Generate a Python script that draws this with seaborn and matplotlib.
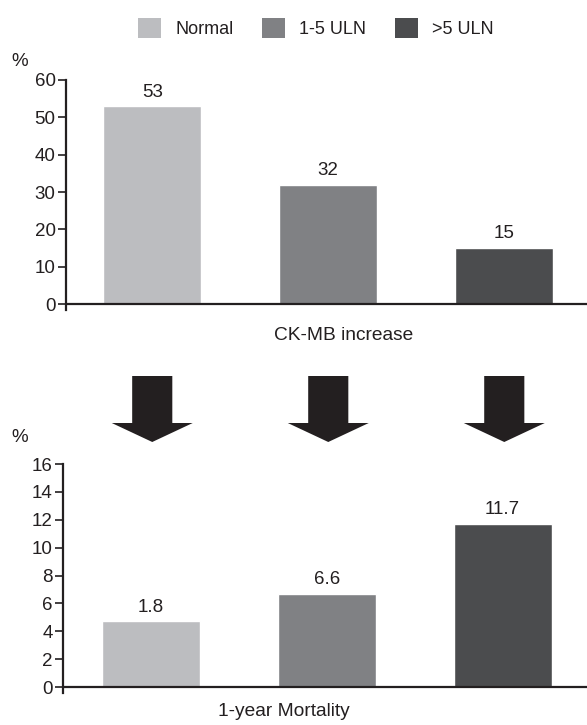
import matplotlib
matplotlib.use("Agg")
import matplotlib.pyplot as plt
import matplotlib.transforms as mtransforms
from matplotlib.patches import Patch, Polygon
import seaborn as sns

# Data
groups = ["Normal", "1-5 ULN", ">5 ULN"]
ckmb_pct = [53, 32, 15]
ckmb_labels = ["53", "32", "15"]
# bar heights as drawn in the source figure, and the numbers printed above them
mortality_bars = [4.7, 6.7, 11.7]
mortality_labels = ["1.8", "6.6", "11.7"]
ckmb_ticks = [0, 10, 20, 30, 40, 50, 60]
mortality_ticks = [0, 2, 4, 6, 8, 10, 12, 14, 16]

colors = ["#bcbdc0", "#808184", "#4b4c4e"]
ink = "#231f20"

sns.set_style("white")
plt.rcParams['font.family'] = ['Liberation Sans', 'DejaVu Sans']
plt.rcParams['font.size'] = 13
plt.rcParams['text.color'] = ink

W, H = 587, 725
fig = plt.figure(figsize=(W / 100, H / 100), dpi=100)


def style_axis(ax, ticks, ymin, xlim):
    """Common look: left spine with outward ticks and a baseline at 0."""
    ax.set_ylim(ymin, ticks[-1])
    ax.set_xlim(*xlim)
    ax.set_yticks(ticks)
    ax.set_xticks([])
    for side in ['top', 'right', 'bottom']:
        ax.spines[side].set_visible(False)
    ax.spines['left'].set_color(ink)
    ax.spines['left'].set_linewidth(1.6)
    ax.tick_params(axis='y', left=True, length=5.5, width=1.2, color=ink,
                   labelcolor=ink, labelsize=13.5, pad=2)
    ax.axhline(0, color=ink, lw=1.6, zorder=3)
    ax.set_ylabel('')
    ax.patch.set_alpha(0)


# Top panel: CK-MB increase
ax1 = fig.add_axes([66 / W, 1 - 310 / H, (W - 66) / W, 230 / H])
sns.barplot(x=groups, y=ckmb_pct, hue=groups, palette=colors, width=0.558,
            saturation=1, legend=False, ax=ax1)
style_axis(ax1, ckmb_ticks, -1.6, (-0.49, 2.47))
for cont, lab in zip(ax1.containers, ckmb_labels):
    ax1.bar_label(cont, labels=[lab], padding=4, fontsize=13.5, color=ink)
ax1.set_xlabel('CK-MB increase', fontsize=13.8, color=ink)
ax1.xaxis.set_label_coords(0.532, -0.075)

# Bottom panel: 1-year mortality
ax2 = fig.add_axes([63 / W, 1 - 693 / H, (W - 63) / W, 229 / H])
sns.barplot(x=groups, y=mortality_bars, hue=groups, palette=colors, width=0.558,
            saturation=1, legend=False, ax=ax2)
style_axis(ax2, mortality_ticks, -0.43, (-0.50, 2.48))
for cont, lab in zip(ax2.containers, mortality_labels):
    ax2.bar_label(cont, labels=[lab], padding=4, fontsize=13.5, color=ink)
ax2.set_xlabel('1-year Mortality', fontsize=13.8, color=ink)
ax2.xaxis.set_label_coords(0.422, -0.045)

# "%" unit labels
fig.text(20 / W, 1 - 62 / H, '%', ha='center', va='center', fontsize=13.5)
fig.text(20 / W, 1 - 438 / H, '%', ha='center', va='center', fontsize=13.5)

# Block arrows from each top bar down to the bottom panel
trans = mtransforms.blended_transform_factory(ax1.transData, fig.transFigure)
y_top, y_neck, y_tip = 1 - 376 / H, 1 - 423 / H, 1 - 442 / H
shaft, head = 0.114, 0.23
for i in range(len(groups)):
    verts = [(i - shaft, y_top), (i + shaft, y_top), (i + shaft, y_neck),
             (i + head, y_neck), (i, y_tip), (i - head, y_neck),
             (i - shaft, y_neck)]
    fig.add_artist(Polygon(verts, closed=True, facecolor=ink, edgecolor='none',
                           transform=trans))

# Legend across the top
handles = [Patch(facecolor=c, edgecolor='none') for c in colors]
fig.legend(handles, groups, loc='upper center', ncol=3, frameon=False,
           bbox_to_anchor=(316 / W, 1 - 2 / H), fontsize=13,
           handlelength=1.25, handleheight=1.3, handletextpad=0.8,
           columnspacing=1.6)

fig.savefig('out.png', dpi=100)
